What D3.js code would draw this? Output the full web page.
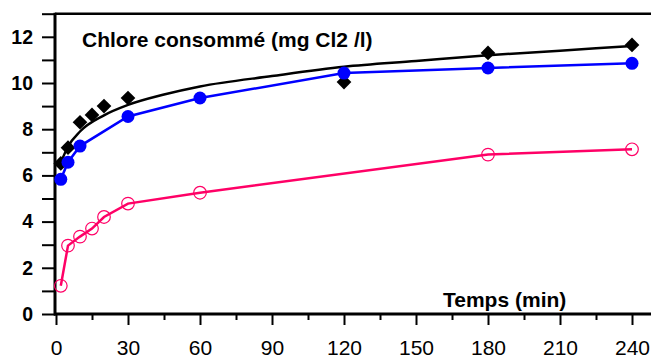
<!DOCTYPE html>
<html><head><meta charset="utf-8">
<script src="https://cdn.jsdelivr.net/npm/d3@7"></script>
<style>body{margin:0;background:#fff}svg{display:block}</style>
</head><body><svg id="c" width="651" height="360"></svg>
<script>
// Data
const timeMin = [2, 5, 10, 15, 20, 30, 120, 180, 240];
const chloreObserved = [6.52, 7.2, 8.3, 8.62, 9.0, 9.35, 10.04, 11.3, 11.65];
const blueTimes = [2, 5, 10, 30, 60, 120, 180, 240];
const blueValues = [5.83, 6.57, 7.27, 8.55, 9.35, 10.43, 10.65, 10.85];
const pinkTimes = [2, 5, 10, 15, 20, 30, 60, 180, 240];
const pinkValues = [1.22, 2.96, 3.35, 3.7, 4.2, 4.78, 5.25, 6.9, 7.13];
const fitTimes = [2, 5, 10, 20, 30, 45, 60, 90, 120, 150, 180, 210, 240];
const fitValues = [6.55, 7.25, 7.9, 8.6, 9.05, 9.5, 9.85, 10.3, 10.7, 10.95, 11.2, 11.4, 11.6];
const xMajorTicks = [0, 30, 60, 90, 120, 150, 180, 210, 240];
const xMinorTicks = [15, 45, 75, 105, 135, 165, 195, 225];
const yMajorTicks = [0, 2, 4, 6, 8, 10, 12];
const yMinorTicks = [1, 3, 5, 7, 9, 11, 13];
const titleText = "Chlore consommé (mg Cl2 /l)";
const xTitle = "Temps (min)";

const svg = d3.select("#c");
const x = d3.scaleLinear().domain([0, 248]).range([56, 651.2]);
const y = d3.scaleLinear().domain([0, 13]).range([314, 13.7]);
const font = "Liberation Sans, Arial, sans-serif";

// Frame: top border
svg.append("line").attr("x1", 55).attr("x2", 651).attr("y1", y(13)).attr("y2", y(13))
  .attr("stroke", "#000").attr("stroke-width", 2.5);

// X axis
const gx = svg.append("g").attr("transform", `translate(0,${y(0)})`);
gx.call(d3.axisBottom(x).tickValues(xMajorTicks).tickSize(11).tickPadding(15).tickSizeOuter(0));
gx.append("g").call(d3.axisBottom(x).tickValues(xMinorTicks).tickSize(6).tickFormat("").tickSizeOuter(0));
gx.selectAll("path.domain").remove();
gx.selectAll("line").attr("stroke", "#000").attr("stroke-width", 2);
gx.selectAll("text").attr("font-family", font).attr("font-size", 21).attr("fill", "#000");
svg.append("line").attr("x1", 54).attr("x2", 651).attr("y1", y(0)).attr("y2", y(0))
  .attr("stroke", "#000").attr("stroke-width", 3);

// Y axis
const gy = svg.append("g").attr("transform", `translate(55,0)`);
gy.call(d3.axisLeft(y).tickValues(yMajorTicks).tickSize(13).tickPadding(9).tickSizeOuter(0));
gy.append("g").call(d3.axisLeft(y).tickValues(yMinorTicks).tickSize(13).tickFormat("").tickSizeOuter(0));
gy.selectAll("path.domain").remove();
gy.selectAll("line").attr("stroke", "#000").attr("stroke-width", 2);
gy.selectAll("text").attr("font-family", font).attr("font-size", 19.5).attr("font-weight", "bold").attr("fill", "#000");
svg.append("line").attr("x1", 55).attr("x2", 55).attr("y1", y(13) - 1).attr("y2", y(0) + 1.5)
  .attr("stroke", "#000").attr("stroke-width", 3);

// Lines
const fitLine = d3.line().x((d, i) => x(fitTimes[i])).y(d => y(d)).curve(d3.curveMonotoneX);
svg.append("path").attr("d", fitLine(fitValues)).attr("fill", "none").attr("stroke", "#000").attr("stroke-width", 2.5);

const blueLine = d3.line().x((d, i) => x(blueTimes[i])).y(d => y(d));
svg.append("path").attr("d", blueLine(blueValues)).attr("fill", "none").attr("stroke", "#0000ff").attr("stroke-width", 2.5);

const pinkLine = d3.line().x((d, i) => x(pinkTimes[i])).y(d => y(d));
svg.append("path").attr("d", pinkLine(pinkValues)).attr("fill", "none").attr("stroke", "#ff0066").attr("stroke-width", 2.5);

// Markers
svg.append("g").selectAll("path").data(chloreObserved).join("path")
  .attr("transform", (d, i) => `translate(${x(timeMin[i])},${y(d)}) rotate(45)`)
  .attr("d", "M-5.2,-5.2H5.2V5.2H-5.2Z").attr("fill", "#000");

svg.append("g").selectAll("circle").data(blueValues).join("circle")
  .attr("cx", (d, i) => x(blueTimes[i])).attr("cy", d => y(d)).attr("r", 6.5).attr("fill", "#0000ff");

svg.append("g").selectAll("circle").data(pinkValues).join("circle")
  .attr("cx", (d, i) => x(pinkTimes[i])).attr("cy", d => y(d)).attr("r", 6.3)
  .attr("fill", "none").attr("stroke", "#ff0066").attr("stroke-width", 1.2);

// Texts
svg.append("text").attr("x", 82).attr("y", 47).attr("font-family", font).attr("font-size", 21)
  .attr("font-weight", "bold").text(titleText);
svg.append("text").attr("x", 443).attr("y", 307).attr("font-family", font).attr("font-size", 21)
  .attr("font-weight", "bold").text(xTitle);
</script></body></html>
